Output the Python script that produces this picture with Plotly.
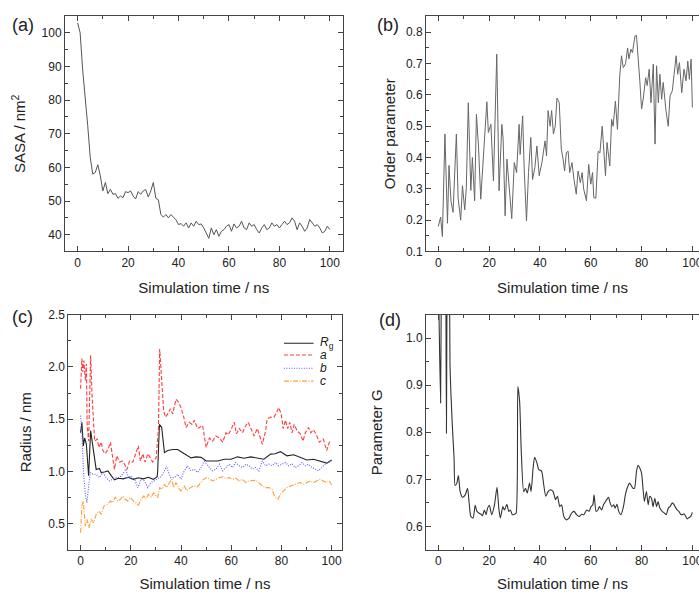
import plotly.graph_objects as go

# ---------------- data ----------------
sasa_t = list(range(0, 101))
sasa = [103, 100, 89, 81.8, 72.5, 63, 58, 58.5, 60.8, 57.5,
        53, 55.5, 52.2, 53.5, 52, 52.2, 50.8, 51.5, 51, 52.8,
        52.5, 53, 51.5, 50.6, 52.8, 52, 53, 53.4, 51.2, 53,
        55.5, 50.8, 50.4, 46, 45.2, 46, 45, 46, 45.3, 44.4,
        43, 43.3, 42.5, 43.5, 42, 43.5, 42.5, 44, 43, 43.2,
        42, 40.5, 38.9, 42, 40, 41.5, 39.5, 41, 41.5, 42.5,
        43, 41, 43.2, 42, 42.5, 44, 42, 41.5, 43.5, 42.5,
        43, 41.5, 40.5, 42, 43, 41.5, 42, 43.5, 42.5, 43,
        42, 43, 44, 43, 43.5, 45, 44, 41.5, 43.5, 42.5,
        41, 42, 44.5, 43.5, 42.5, 43, 42, 40.5, 41, 42.5, 41.5]

op_t = [0, 0.9, 1.6, 2.6, 3.6, 4.2, 5.0, 5.8, 7.1, 7.8, 8.8, 9.5, 10.4, 11.0, 11.8, 12.8, 13.4,
        14.3, 15.0, 15.8, 16.7, 18.0, 19.1, 19.7, 20.7, 21.7, 23.0, 23.9, 25.0, 25.5, 26.3, 27.0,
        27.9, 28.9, 29.9, 30.8, 31.8, 32.2, 33.2, 33.8, 34.7, 35.5, 36.4, 37.1, 38.0, 38.8, 39.7,
        40.8, 42.0, 42.6, 43.2, 44.0, 44.6, 45.3, 46.0, 46.7, 47.6, 48.4, 49.1, 49.7, 50.4, 51.1,
        51.7, 52.6, 53.4, 54.3, 55.0, 55.9, 56.6, 57.2, 58.3, 59.2, 60.0, 60.7, 61.2, 62.0, 62.9,
        63.6, 64.5, 65.1, 65.8, 66.4, 67.5, 68.2, 68.8, 69.7, 70.5, 71.4, 72.1, 72.8, 73.7, 74.5,
        75.0, 75.8, 76.4, 77.4, 78.0, 79.3, 80.0, 80.7, 81.6, 82.2, 83.0, 83.7, 84.6, 85.3, 85.9,
        86.6, 87.2, 87.9, 88.5, 89.6, 90.5, 91.2, 92.1, 92.8, 93.6, 94.2, 94.9, 95.8, 96.7, 97.5,
        98.2, 98.8, 99.5, 100.0]
order_param = [0.18, 0.21, 0.148, 0.475, 0.19, 0.375, 0.26, 0.225, 0.475, 0.27, 0.2, 0.31, 0.233,
               0.3, 0.575, 0.295, 0.4, 0.262, 0.538, 0.437, 0.267, 0.453, 0.578, 0.48, 0.506, 0.325,
               0.73, 0.294, 0.506, 0.46, 0.214, 0.395, 0.315, 0.205, 0.384, 0.352, 0.506, 0.41,
               0.533, 0.363, 0.198, 0.352, 0.464, 0.33, 0.368, 0.437, 0.342, 0.385, 0.453, 0.405,
               0.55, 0.5, 0.55, 0.475, 0.5, 0.59, 0.575, 0.427, 0.395, 0.357, 0.416, 0.42, 0.352,
               0.384, 0.33, 0.283, 0.357, 0.32, 0.352, 0.3, 0.262, 0.378, 0.315, 0.352, 0.272, 0.27,
               0.42, 0.415, 0.5, 0.427, 0.342, 0.448, 0.373, 0.522, 0.5, 0.58, 0.49, 0.66, 0.725,
               0.687, 0.70, 0.75, 0.715, 0.746, 0.735, 0.788, 0.79, 0.645, 0.555, 0.59, 0.655, 0.63,
               0.682, 0.575, 0.698, 0.443, 0.693, 0.575, 0.666, 0.586, 0.64, 0.55, 0.50, 0.597,
               0.613, 0.666, 0.725, 0.666, 0.703, 0.607, 0.682, 0.645, 0.708, 0.65, 0.714, 0.56]

rg_t = [0, 0.5, 1.1, 1.6, 2.3, 3.2, 4.0, 4.9, 6.2, 7.5, 8.2, 9.5, 10.9, 12.2, 13.5, 15, 17, 19, 21,
        23, 25, 27, 29, 30.5, 30.7, 31.4, 32.3, 33.4, 34.7, 36.7, 38.7, 40.7, 42.6, 44, 46, 48, 50,
        52, 54.6, 57.2, 59.9, 62.5, 65.1, 67.8, 70.4, 73, 75.7, 77.5, 79.6, 82.2, 84.9, 87.5, 90.1,
        92.8, 95.4, 98, 100]
rg = [1.37, 1.47, 1.245, 1.32, 1.26, 0.96, 1.39, 1.245, 1.02, 1.03, 0.99, 0.995, 1.005, 0.96, 0.92,
      0.935, 0.93, 0.945, 0.925, 0.94, 0.93, 0.945, 0.925, 0.95, 1.0, 1.45, 1.42, 1.18, 1.2, 1.21,
      1.21, 1.18, 1.15, 1.13, 1.14, 1.135, 1.1, 1.1, 1.1, 1.117, 1.117, 1.14, 1.127, 1.14, 1.127,
      1.117, 1.166, 1.17, 1.19, 1.15, 1.16, 1.135, 1.11, 1.117, 1.1, 1.08, 1.11]

a_t = [0, 0.5, 0.9, 1.3, 1.9, 2.3, 2.6, 3.2, 4.0, 4.6, 5.6, 6.6, 7.3, 8.2, 8.9, 9.8, 10.9, 11.9,
       12.8, 13.5, 14.4, 15.5, 16.6, 17.5, 18.5, 19.5, 20.8, 21.9, 23.0, 23.8, 24.8, 25.7, 26.8,
       27.8, 28.7, 30.1, 31.0, 31.5, 32.3, 33.1, 33.8, 34.7, 35.8, 36.7, 38.0, 39.1, 40.0, 41.1,
       42.0, 43.3, 44.4, 45.3, 46.6, 47.7, 48.6, 50.0, 51.3, 52.6, 53.9, 55.3, 56.6, 57.9, 58.8,
       59.9, 61.2, 62.1, 63.2, 64.5, 65.8, 66.8, 68.0, 69.1, 70.4, 71.4, 72.4, 73.7, 74.3, 75.7,
       77.0, 78.0, 78.9, 79.9, 80.7, 81.6, 82.5, 83.3, 84.2, 85.1, 86.2, 87.5, 88.6, 89.5, 90.8,
       91.7, 92.8, 94.1, 95.1, 96.7, 98.0, 99.1, 100.0]
a_axis = [1.79, 2.08, 1.95, 2.06, 1.87, 2.03, 1.45, 1.29, 2.11, 1.71, 1.29, 1.31, 1.23, 1.28, 1.2,
          1.17, 1.21, 1.28, 1.13, 1.02, 1.15, 1.09, 1.1, 1.07, 1.02, 1.1, 1.09, 1.17, 1.245, 1.1,
          1.17, 1.09, 1.17, 1.13, 1.09, 1.13, 1.4, 2.17, 1.87, 1.58, 1.52, 1.55, 1.6, 1.55, 1.69,
          1.66, 1.61, 1.52, 1.42, 1.47, 1.45, 1.49, 1.41, 1.43, 1.44, 1.23, 1.32, 1.29, 1.34, 1.32,
          1.28, 1.37, 1.35, 1.40, 1.47, 1.36, 1.41, 1.37, 1.44, 1.47, 1.41, 1.34, 1.41, 1.33, 1.26,
          1.39, 1.50, 1.52, 1.52, 1.56, 1.61, 1.55, 1.41, 1.49, 1.41, 1.47, 1.37, 1.45, 1.39, 1.36,
          1.29, 1.37, 1.42, 1.37, 1.4, 1.34, 1.28, 1.31, 1.2, 1.28, 1.29]

b_t = [0, 0.5, 1.2, 1.9, 2.5, 3.2, 3.8, 4.9, 6.2, 7.5, 8.9, 10.2, 11.5, 12.8, 14.2, 15.5, 16.8,
       18.1, 18.8, 20.1, 21.5, 22.8, 24.1, 25.4, 26.8, 28.1, 29.4, 30.7, 32.0, 33.4, 34.2, 35.0,
       36.0, 37.4, 38.7, 40.0, 41.3, 42.6, 44.0, 45.3, 46.6, 48.0, 49.3, 51.3, 52.6, 53.9, 55.3,
       56.6, 57.9, 59.2, 60.5, 61.8, 63.2, 64.5, 65.8, 67.1, 68.4, 69.7, 71.0, 72.4, 73.7, 75.0,
       76.3, 77.6, 78.9, 80.3, 81.6, 82.9, 84.2, 85.5, 86.8, 88.2, 89.5, 90.8, 92.1, 93.4, 94.7,
       96.1, 97.4, 98.7, 100.0]
b_axis = [1.534, 1.39, 0.974, 0.782, 0.702, 0.846, 0.99, 0.974, 0.974, 0.942,
          0.99, 0.942, 0.91, 0.926, 0.942, 0.942, 0.974, 1.022, 0.942, 0.958,
          0.926, 0.846, 0.926, 0.91, 0.846, 0.894, 0.91, 0.926, 0.948, 1.006,
          1.054, 0.99, 0.942, 0.942, 0.974, 0.926, 1.006, 1.054, 1.006, 1.022,
          0.99, 1.038, 1.10,
          1.038, 1.006, 1.022, 1.07, 1.006, 1.038, 1.07, 1.038, 1.086, 1.054,
          1.038, 1.07, 1.054, 1.022, 1.038, 1.006, 1.10, 1.054, 1.07, 1.054,
          1.086, 1.054, 1.07, 1.086, 1.054, 1.076, 1.038, 1.054, 1.086, 1.054,
          1.07, 1.038, 1.022, 1.006, 1.038, 1.07, 1.086, 1.10]

c_t = [0, 0.5, 1.1, 1.9, 2.6, 3.3, 4.2, 5.2, 6.2, 7.3, 8.2, 9.3, 10.6, 11.9, 12.8, 13.8, 14.8, 15.9,
       16.8, 17.7, 18.8, 19.9, 21.1, 22.1, 23.0, 24.1, 25.2, 26.1, 27.0, 28.1, 29.1, 30.1, 30.7,
       31.5, 32.5, 33.4, 34.3, 35.4, 36.3, 37.1, 38.0, 38.9, 40.0, 41.3, 42.4, 43.7, 45.0, 46.4,
       47.7, 49.0, 50.3, 51.3, 52.6, 53.9, 55.3, 56.6, 57.9, 59.2, 60.5, 61.8, 63.2, 64.5, 65.8,
       67.1, 68.4, 69.7, 71.0, 72.4, 73.7, 75.0, 76.3, 77.2, 78.6, 79.6, 80.9, 82.2, 83.6, 84.9,
       86.2, 87.5, 88.8, 90.1, 91.4, 92.8, 94.1, 95.4, 96.7, 98.0, 99.1, 100.0]
c_axis = [0.414, 0.67, 0.718, 0.478, 0.542, 0.462, 0.542, 0.51, 0.59, 0.622,
          0.59, 0.67, 0.686, 0.718, 0.702, 0.756, 0.718, 0.734, 0.766, 0.734,
          0.718, 0.75, 0.718, 0.702, 0.679, 0.734, 0.766, 0.734, 0.782, 0.756,
          0.798, 0.766, 0.75, 0.846, 0.83, 0.878, 0.846, 0.894, 0.926, 0.846,
          0.894, 0.846, 0.814, 0.862, 0.814, 0.846, 0.862, 0.852, 0.894, 0.926,
          0.942,
          0.926, 0.91, 0.926, 0.942, 0.948, 0.935, 0.942, 0.926, 0.935, 0.91,
          0.926, 0.894, 0.91, 0.916, 0.916, 0.894, 0.862, 0.846, 0.846, 0.83,
          0.766, 0.734, 0.782, 0.814, 0.846, 0.862, 0.871, 0.884, 0.894, 0.878,
          0.894, 0.91, 0.894, 0.91, 0.926, 0.91, 0.894, 0.91, 0.871]

g_t = [0, 0.3, 0.9, 1.6, 2.5, 3.2, 3.7, 4.2, 4.6, 5.5, 6.2, 6.6, 7.3, 7.9, 8.6, 9.5, 10.6, 11.5,
       12.2, 12.8, 13.7, 14.5, 15.2, 16.1, 16.8, 17.4, 18.1, 18.8, 19.4, 20.1, 21.0, 22.1, 23.1,
       23.8, 24.4, 25.4, 26.0, 27.0, 27.7, 28.4, 29.1, 30.0, 30.6, 31.3, 32.0, 32.6, 33.6, 34.3,
       35.0, 35.9, 36.5, 37.3, 37.9, 38.8, 39.6, 40.6, 41.5, 42.3, 43.2, 44.1, 45.2, 46.1, 46.9,
       47.8, 48.5, 49.4, 50.4, 51.5, 52.4, 53.4, 54.4, 55.4, 56.4, 57.3, 58.4, 59.3, 60.1, 60.8,
       61.3, 62.1, 62.8, 63.4, 64.3, 65.0, 65.7, 66.3, 67.0, 67.6, 68.3, 69.0, 69.6, 70.3, 71.0,
       71.9, 73.0, 73.6, 74.3, 75.2, 75.8, 76.6, 77.2, 78.0, 78.6, 79.3, 80.0, 80.6, 81.1, 81.9,
       82.6, 83.2, 83.9, 84.5, 85.2, 85.9, 86.5, 87.2, 88.1, 89.1, 89.7, 90.5, 91.2, 92.1, 92.7,
       93.4, 94.0, 94.7, 95.4, 96.0, 96.7, 97.4, 98.0, 98.7, 99.3, 100.0]
g_param = [1.15, 1.04, 0.862, 1.4, 1.5, 0.798, 1.4, 1.3, 0.943, 0.816,
           0.745, 0.687, 0.692, 0.708, 0.674, 0.662, 0.667, 0.681, 0.646, 0.621,
           0.618, 0.645, 0.632, 0.628, 0.626, 0.623, 0.635, 0.625, 0.639, 0.645,
           0.625, 0.646, 0.683, 0.639, 0.618, 0.642, 0.635, 0.647, 0.632, 0.635,
           0.625, 0.626, 0.628, 0.897, 0.865, 0.766, 0.674, 0.681, 0.671, 0.692,
           0.674, 0.724, 0.747, 0.735, 0.72, 0.718, 0.688, 0.664, 0.674, 0.678,
           0.674, 0.657, 0.664, 0.642, 0.646, 0.621, 0.614, 0.618, 0.628, 0.632,
           0.625, 0.621, 0.626, 0.625, 0.635, 0.632, 0.642, 0.646, 0.667, 0.632,
           0.635, 0.642, 0.635, 0.646, 0.652, 0.657, 0.662, 0.65, 0.642, 0.646,
           0.639, 0.647, 0.632, 0.625, 0.646, 0.667, 0.681, 0.692, 0.688, 0.681,
           0.681, 0.717, 0.73, 0.724, 0.713, 0.678, 0.653, 0.674, 0.646, 0.664,
           0.66, 0.642, 0.66, 0.642, 0.653, 0.639, 0.632, 0.628, 0.625, 0.639,
           0.642, 0.65, 0.647, 0.64, 0.635, 0.632, 0.626, 0.625, 0.627, 0.621,
           0.616, 0.619, 0.621, 0.63]

x_title = "Simulation time / ns"
panel_labels = ["(a)", "(b)", "(c)", "(d)"]
legend_names = ["<i>R</i><sub>g</sub>", "<i>a</i>", "<i>b</i>", "<i>c</i>"]

# ---------------- figure ----------------
FONT = "Liberation Sans, Arial, sans-serif"
AX = "#444"
TXT = "#222"

fig = go.Figure()
fig.add_trace(go.Scatter(x=sasa_t, y=sasa, mode="lines", line=dict(color="#555", width=1),
                         xaxis="x", yaxis="y", name="SASA"))
fig.add_trace(go.Scatter(x=op_t, y=order_param, mode="lines", line=dict(color="#666", width=1),
                         xaxis="x2", yaxis="y2", name="Order parameter"))
fig.add_trace(go.Scatter(x=rg_t, y=rg, mode="lines", line=dict(color="#222", width=1.1),
                         xaxis="x3", yaxis="y3", name="Rg"))
fig.add_trace(go.Scatter(x=a_t, y=a_axis, mode="lines",
                         line=dict(color="#ff3c3c", width=1.1, dash="4px,2px"),
                         xaxis="x3", yaxis="y3", name="a"))
fig.add_trace(go.Scatter(x=b_t, y=b_axis, mode="lines",
                         line=dict(color="#5a5aff", width=1.1, dash="1px,1.5px"),
                         xaxis="x3", yaxis="y3", name="b"))
fig.add_trace(go.Scatter(x=c_t, y=c_axis, mode="lines",
                         line=dict(color="#ff9d3a", width=1.1, dash="5px,1.5px,1px,1.5px"),
                         xaxis="x3", yaxis="y3", name="c"))
fig.add_trace(go.Scatter(x=g_t, y=g_param, mode="lines",
                         line=dict(color="#333", width=1.1, shape="spline", smoothing=0.6),
                         xaxis="x4", yaxis="y4", name="G"))


def xax(domain, rng, anchor, mirror="allticks", standoff=13):
    return dict(domain=domain, range=rng, anchor=anchor, showline=True, linecolor=AX, linewidth=1,
                mirror=mirror, ticks="inside", ticklen=5, tickcolor=AX, tickwidth=1,
                tickvals=[0, 20, 40, 60, 80, 100], showgrid=False, zeroline=False,
                ticklabeloverflow="allow", automargin=False,
                tickfont=dict(family=FONT, size=12, color=TXT),
                minor=dict(dtick=10, tick0=0, ticks="inside", ticklen=3, tickcolor=AX, showgrid=False),
                title=dict(text=x_title, font=dict(family=FONT, size=15, color=TXT), standoff=standoff))


def yax(domain, rng, anchor, tickvals, fmt, minor_dtick, minor_tick0, title, mirror="allticks", standoff=10):
    return dict(domain=domain, range=rng, anchor=anchor, showline=True, linecolor=AX, linewidth=1,
                mirror=mirror, ticks="inside", ticklen=5, tickcolor=AX, tickwidth=1,
                tickvals=tickvals, tickformat=fmt, showgrid=False, zeroline=False,
                automargin=False,
                tickfont=dict(family=FONT, size=12, color=TXT),
                minor=dict(dtick=minor_dtick, tick0=minor_tick0, ticks="inside", ticklen=3,
                           tickcolor=AX, showgrid=False),
                title=dict(text=title, font=dict(family=FONT, size=15, color=TXT), standoff=standoff))


top = [0.559, 1.0]
bot = [0.0, 0.441]
fig.update_layout(
    width=699, height=592,
    margin=dict(l=65, r=0, t=16, b=42),
    paper_bgcolor="white", plot_bgcolor="white",
    showlegend=False,
    font=dict(family=FONT, color=TXT),
    xaxis=xax([0.0, 0.4377], [-5, 105], "y"),
    yaxis=yax(top, [35, 105], "x", [40, 50, 60, 70, 80, 90, 100], "d", 5, 0, "SASA / nm<sup>2</sup>",
              standoff=12),
    xaxis2=xax([0.5694, 1.0], [-4.85, 102.6], "y2"),
    yaxis2=yax(top, [0.1, 0.852], "x2", [0.1, 0.2, 0.3, 0.4, 0.5, 0.6, 0.7, 0.8], ".1f", 0.05, 0,
               "Order parameter", mirror=False, standoff=6),
    xaxis3=xax([0.0052, 0.4364], [-4.9, 104], "y3", standoff=15),
    yaxis3=yax(bot, [0.25, 2.5], "x3", [0.5, 1.0, 1.5, 2.0, 2.5], ".1f", 0.25, 0, "Radius / nm",
               standoff=12),
    xaxis4=xax([0.5694, 1.0], [-4.85, 102.6], "y4", standoff=15),
    yaxis4=yax(bot, [0.55, 1.05], "x4", [0.6, 0.7, 0.8, 0.9, 1.0], ".1f", 0.05, 0,
               "Parameter G", mirror=False, standoff=19),
)

# panel labels
label_pos = [(10, 13), (375, 13), (10, 305), (377, 308)]
for lab, (px, py) in zip(panel_labels, label_pos):
    fig.add_annotation(text=lab, xref="paper", yref="paper",
                       x=(px - 65) / 634, y=(550 - py) / 534, xanchor="left", yanchor="top",
                       showarrow=False, font=dict(family=FONT, size=18, color=TXT))

# legend for panel (c)
leg_styles = [dict(color="#222", width=1.1),
              dict(color="#ff3c3c", width=1.1, dash="4px,2px"),
              dict(color="#5a5aff", width=1.1, dash="1px,1.5px"),
              dict(color="#ff9d3a", width=1.1, dash="5px,1.5px,1px,1.5px")]
leg_y = [2.225, 2.113, 1.986, 1.864]
for name, style, ly in zip(legend_names, leg_styles, leg_y):
    fig.add_shape(type="line", xref="x3", yref="y3", x0=81, x1=92.8, y0=ly, y1=ly, line=style)
    fig.add_annotation(text=name, xref="x3", yref="y3", x=94.5, y=ly, xanchor="left",
                       yanchor="middle", showarrow=False,
                       font=dict(family=FONT, size=12, color=TXT))

post = ("document.documentElement.style.margin='0';document.body.style.margin='0';"
        "document.documentElement.style.overflow='hidden';document.body.style.overflow='hidden';")
fig.write_html("out.html", post_script=post, config={"displayModeBar": False})
